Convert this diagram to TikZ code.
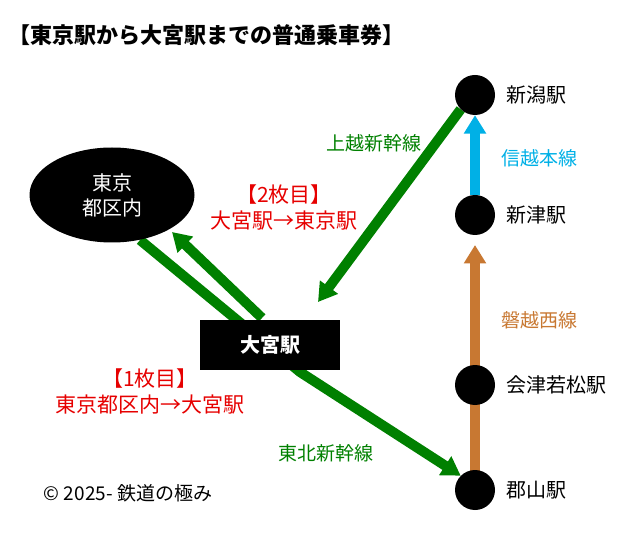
\documentclass[tikz,border=0pt]{standalone}
\usepackage{fontspec}
\setmainfont{Noto Sans CJK JP}
\usetikzlibrary{shapes.geometric, positioning, backgrounds}
\usetikzlibrary{arrows.meta}
\definecolor{jrgreen}{RGB}{0,128,0}
\definecolor{jrblue}{RGB}{0,176,230}
\definecolor{jrorange}{RGB}{200,120,50}
\definecolor{jrred}{RGB}{230,0,0}
\tikzset{>={Triangle[width=7.5mm,length=6.5mm]}}

\begin{document}
\begin{tikzpicture}[x=1pt, y=-1pt, font=\fontsize{18}{22}\selectfont,
    station/.style={circle, fill=black, minimum size=40pt, inner sep=0pt},
    stalabel/.style={right=8pt, font=\fontsize{20}{24}\selectfont},
    hub/.style={fill=black, text=white, minimum width=140pt, minimum height=50pt, font=\fontsize{20}{24}\selectfont\bfseries},
    area/.style={ellipse, fill=black, text=white, minimum width=165pt, minimum height=95pt, align=center, font=\fontsize{20}{25}\selectfont},
    rail/.style={line width=10pt, ->},
    linelabel/.style={font=\fontsize{19}{23}\selectfont},
    ticket/.style={text=jrred, align=center, font=\fontsize{21}{26}\selectfont}]
    \useasboundingbox (0,0) rectangle (640,553);

    %Nodes
    \node[anchor=west, font=\fontsize{22}{26}\selectfont\bfseries] (title) at (5,35) {【東京駅から大宮駅までの普通乗車券】};
    \node[area] (tokyo) at (112,195) {東京\\都区内};
    \node[hub] (omiya) at (270,345) {大宮駅};
    \node[station] (niigata) at (475,95) {};
    \node[station] (niitsu) at (475,215) {};
    \node[station] (aizu) at (475,385) {};
    \node[station] (koriyama) at (475,490) {};
    \node[stalabel] at (niigata.east) {新潟駅};
    \node[stalabel] at (niitsu.east) {新津駅};
    \node[stalabel] at (aizu.east) {会津若松駅};
    \node[stalabel] at (koriyama.east) {郡山駅};
    \coordinate (tokyoout) at (140,240);
    \coordinate (tokyoin) at (172,232);
    \coordinate (hubout) at (262,318);

    %Lines
    \begin{scope}[on background layer]
    \draw[rail, jrgreen] (tokyoout) -- (300,372) -- (koriyama.north west);
    \draw[rail, jrgreen] (hubout) -- (tokyoin);
    \draw[rail, jrgreen] (niigata.south west) -- (318,302);
    \draw[rail, jrblue] (niitsu.north) -- (niigata.south);
    \draw[rail, jrorange] (koriyama.center) -- (475,245);
    \end{scope}

    %Labels
    \node[linelabel, text=jrgreen] (joetsu) at (374,143) {上越新幹線};
    \node[linelabel, text=jrblue] (shinetsu) at (539,158) {信越本線};
    \node[linelabel, text=jrorange] (banetsu) at (539,320) {磐越西線};
    \node[linelabel, text=jrgreen] (tohoku) at (326,453) {東北新幹線};
    \node[ticket] (second) at (284,208) {【2枚目】\\大宮駅→東京駅};
    \node[ticket] (first) at (150,391) {【1枚目】\\東京都区内→大宮駅};
    \node[font=\fontsize{19}{23}\selectfont] (copy) at (128,493) {© 2025- 鉄道の極み};
\end{tikzpicture}
\end{document}
